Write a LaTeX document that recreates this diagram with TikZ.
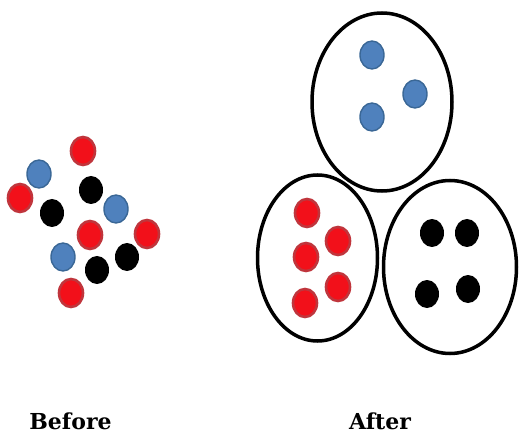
\documentclass[tikz,border=0pt]{standalone}
\usepackage{fontspec}
\setmainfont{DejaVu Serif}
\usetikzlibrary{shapes.geometric}
\definecolor{dotred}{HTML}{F2101A}
\definecolor{dotredrim}{HTML}{C0353C}
\definecolor{dotblue}{HTML}{4F81BD}
\definecolor{dotbluerim}{HTML}{3A6796}
\tikzset{
  dot/.style={ellipse, inner sep=0pt, minimum width=24pt, minimum height=28pt},
  reddot/.style={dot, fill=dotred, draw=dotredrim, line width=2.6pt},
  bluedot/.style={dot, fill=dotblue, draw=dotbluerim, line width=1.4pt},
  blackdot/.style={dot, fill=black},
  cluster/.style={ellipse, draw=black, line width=3.5pt, inner sep=0pt},
  caption/.style={font=\bfseries\fontsize{22}{24}\selectfont, anchor=base}
}
\begin{document}
\begin{tikzpicture}[x=1pt, y=-1pt]
\useasboundingbox (0,0) rectangle (520,433);
\fill[white] (0,0) rectangle (520,433);

% scattered points before clustering
\foreach \n/\x/\y in {r1/83/151, r2/20/198, r3/90/235, r4/147/234, r5/71/293}
  \node[reddot] (\n) at (\x,\y) {};
\foreach \n/\x/\y in {b1/39/174, b2/116/209, b3/63/257}
  \node[bluedot] (\n) at (\x,\y) {};
\foreach \n/\x/\y in {k1/91/190, k2/52/213, k3/127/257, k4/97/270}
  \node[blackdot] (\n) at (\x,\y) {};

% the three clusters
\node[cluster, minimum width=140pt, minimum height=178pt] (blueset) at (382,102) {};
\node[cluster, minimum width=120pt, minimum height=166pt] (redset) at (317.5,258) {};
\node[cluster, minimum width=133pt, minimum height=173pt] (blackset) at (450,267) {};

\foreach \n/\x/\y in {cb1/372/55, cb2/415/94, cb3/372/117}
  \node[bluedot] (\n) at (\x,\y) {};
\foreach \n/\x/\y in {cr1/307/213, cr2/338/241, cr3/306/257, cr4/338/287, cr5/305/303}
  \node[reddot] (\n) at (\x,\y) {};
\foreach \n/\x/\y in {ck1/432/233, ck2/467/233, ck3/427/294, ck4/468/289}
  \node[blackdot] (\n) at (\x,\y) {};

% captions
\node[caption] (before) at (70.5,429) {Before};
\node[caption] (after) at (380,429) {After};
\end{tikzpicture}
\end{document}
